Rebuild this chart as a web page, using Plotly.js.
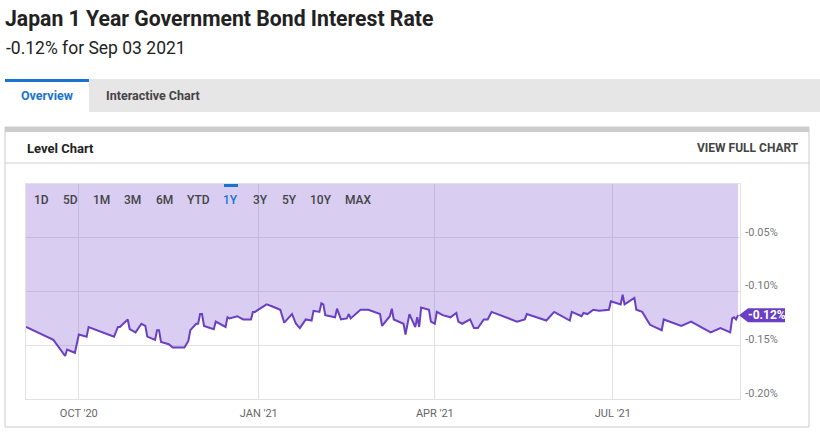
<!DOCTYPE html>
<html>
<head>
<meta charset="utf-8">
<script src="https://cdn.plot.ly/plotly-3.0.1.min.js"></script>
<style>
  html, body { margin: 0; padding: 0; background: #ffffff; }
  #chart { width: 820px; height: 435px; }
</style>
</head>
<body>
<div id="chart"></div>
<script>
// ---- Data ----
const chartTitle = "Japan 1 Year Government Bond Interest Rate";
const lastDateLabel = "Sep 03 2021";
const dates = [
  "2020-09-04","2020-09-18","2020-09-24","2020-09-25","2020-09-29","2020-10-01","2020-10-05","2020-10-06",
  "2020-10-19","2020-10-21","2020-10-22","2020-10-26","2020-10-27","2020-10-30","2020-11-02","2020-11-04",
  "2020-11-05","2020-11-09","2020-11-10","2020-11-11","2020-11-12","2020-11-16","2020-11-18","2020-11-24",
  "2020-11-26","2020-11-27","2020-11-30","2020-12-01","2020-12-02","2020-12-03","2020-12-04","2020-12-09",
  "2020-12-10","2020-12-15","2020-12-16","2020-12-17","2020-12-21","2020-12-24","2020-12-28","2020-12-29",
  "2020-12-30","2021-01-05","2021-01-08","2021-01-12","2021-01-14","2021-01-18","2021-01-20","2021-01-22",
  "2021-01-25","2021-01-28","2021-01-29","2021-02-01","2021-02-02","2021-02-03","2021-02-04","2021-02-09",
  "2021-02-10","2021-02-12","2021-02-15","2021-02-16","2021-02-17","2021-02-22","2021-02-24","2021-02-26",
  "2021-03-04","2021-03-05","2021-03-09","2021-03-10","2021-03-11","2021-03-15","2021-03-16","2021-03-17",
  "2021-03-18","2021-03-19","2021-03-22","2021-03-23","2021-03-24","2021-03-25","2021-03-29","2021-03-30",
  "2021-04-01","2021-04-02","2021-04-05","2021-04-09","2021-04-12","2021-04-13","2021-04-15","2021-04-19",
  "2021-04-21","2021-04-23","2021-04-26","2021-04-28","2021-04-30","2021-05-06","2021-05-13","2021-05-17",
  "2021-05-18","2021-05-28","2021-06-01","2021-06-09","2021-06-10","2021-06-15","2021-06-16","2021-06-18",
  "2021-06-21","2021-06-24","2021-06-29","2021-06-30","2021-07-04","2021-07-05","2021-07-06","2021-07-07",
  "2021-07-12","2021-07-13","2021-07-16","2021-07-20","2021-07-26","2021-07-27","2021-08-05","2021-08-10",
  "2021-08-20","2021-08-25","2021-08-30","2021-08-31","2021-09-01","2021-09-02","2021-09-03"
];
const rates = [
  -0.133,-0.145,-0.160,-0.154,-0.157,-0.140,-0.142,-0.133,
  -0.142,-0.133,-0.133,-0.126,-0.135,-0.138,-0.130,-0.132,
  -0.142,-0.145,-0.136,-0.136,-0.147,-0.149,-0.152,-0.152,
  -0.146,-0.136,-0.130,-0.130,-0.121,-0.121,-0.132,-0.135,
  -0.128,-0.133,-0.124,-0.125,-0.123,-0.126,-0.126,-0.119,
  -0.119,-0.112,-0.114,-0.117,-0.129,-0.121,-0.130,-0.134,
  -0.126,-0.127,-0.118,-0.119,-0.111,-0.112,-0.122,-0.124,
  -0.116,-0.126,-0.125,-0.121,-0.125,-0.117,-0.117,-0.117,
  -0.121,-0.132,-0.123,-0.116,-0.126,-0.129,-0.130,-0.140,
  -0.130,-0.121,-0.133,-0.124,-0.133,-0.115,-0.117,-0.128,
  -0.130,-0.119,-0.122,-0.124,-0.120,-0.128,-0.130,-0.126,
  -0.134,-0.134,-0.126,-0.126,-0.119,-0.123,-0.128,-0.126,
  -0.121,-0.127,-0.119,-0.127,-0.119,-0.123,-0.120,-0.121,
  -0.117,-0.118,-0.117,-0.109,-0.111,-0.112,-0.103,-0.112,
  -0.106,-0.117,-0.119,-0.131,-0.136,-0.126,-0.132,-0.128,
  -0.138,-0.134,-0.138,-0.125,-0.124,-0.126,-0.122
];
const xTickDates = ["2020-10-01","2021-01-01","2021-04-01","2021-07-01"];
const xTickLabels = ["OCT '20","JAN '21","APR '21","JUL '21"];
const yTickValues = [-0.20,-0.15,-0.10,-0.05];
const rangeLabels = ["1D","5D","1M","3M","6M","YTD","1Y","3Y","5Y","10Y","MAX"];
const activeRange = "1Y";
const tabLabels = ["Overview","Interactive Chart"];
const panelTitle = "Level Chart";
const panelLink = "VIEW FULL CHART";

// ---- Layout helpers (pixel -> paper) ----
const W = 820, H = 435;
const M = {l: 26, r: 80, t: 184, b: 36};
const PW = W - M.l - M.r, PH = H - M.t - M.b;
const X = px => (px - M.l) / PW;
const Y = py => (H - M.b - py) / PH;

const purple = "#6a3fc4";
const blue = "#1a73d1";
const lastVal = rates[rates.length - 1];
const fmtPct = v => v.toFixed(2) + "%";

const traces = [{
  type: "scatter",
  mode: "lines",
  x: dates,
  y: rates,
  line: {color: purple, width: 2},
  fill: "tozeroy",
  fillcolor: "rgba(120,80,210,0.28)",
  hoverinfo: "skip"
}];

const rangeX = [41, 70, 101, 132, 164, 198, 231, 260, 289, 321, 358];

const annotations = [
  {text: fmtPct(lastVal) + " for " + lastDateLabel, xref: "paper", yref: "paper", x: X(4), y: Y(48),
   xanchor: "left", yanchor: "middle", showarrow: false, font: {family: "Roboto", size: 17.5, color: "#222"}},
  {text: tabLabels[0], xref: "paper", yref: "paper", x: X(47), y: Y(96), xanchor: "center", yanchor: "middle",
   showarrow: false, font: {family: "Roboto", size: 12.5, weight: "bold", color: blue}},
  {text: tabLabels[1], xref: "paper", yref: "paper", x: X(104), y: Y(96), xanchor: "left", yanchor: "middle",
   showarrow: false, font: {family: "Roboto", size: 12.5, weight: "bold", color: "#444"}},
  {text: panelTitle, xref: "paper", yref: "paper", x: X(25), y: Y(148), xanchor: "left", yanchor: "middle",
   showarrow: false, font: {family: "Roboto", size: 13, weight: "bold", color: "#222"}},
  {text: panelLink, xref: "paper", yref: "paper", x: X(801), y: Y(148), xanchor: "right", yanchor: "middle",
   showarrow: false, font: {family: "Roboto", size: 12, weight: "bold", color: "#444"}},
  {text: "<b>" + fmtPct(lastVal) + "</b>", xref: "paper", yref: "y", x: X(767), y: lastVal,
   xanchor: "center", yanchor: "middle", showarrow: false, font: {family: "Roboto", size: 12, color: "#ffffff"}}
];
rangeLabels.forEach((lab, i) => {
  annotations.push({
    text: lab, xref: "paper", yref: "paper", x: X(rangeX[i]), y: Y(200), xanchor: "center", yanchor: "middle",
    showarrow: false,
    font: {family: "Roboto", size: 12, weight: 500, color: lab === activeRange ? blue : "#444"}
  });
});

const rect = (x0, y0, x1, y1, fill, extra) => Object.assign({
  type: "rect", xref: "paper", yref: "paper", x0: X(x0), x1: X(x1), y0: Y(y0), y1: Y(y1),
  fillcolor: fill, line: {width: 0}, layer: "below"
}, extra || {});

const shapes = [
  rect(5, 79, 820, 112, "#e6e6e6"),
  rect(5, 82, 89, 112, "#ffffff"),
  rect(5, 79, 89, 82, blue),
  rect(5, 127, 809, 427, "rgba(0,0,0,0)", {line: {color: "#cccccc", width: 1}}),
  rect(5, 127, 809, 132, "#cccccc"),
  {type: "line", xref: "paper", yref: "paper", x0: X(5), x1: X(809), y0: Y(163), y1: Y(163),
   line: {color: "#d0d0d0", width: 1}, layer: "below"},
  rect(224, 184, 238, 187, blue, {layer: "above"}),
  {type: "path", xref: "paper", yref: "y", xsizemode: "pixel", ysizemode: "pixel",
   xanchor: 1, yanchor: lastVal,
   path: "M -1,0 L 8,7 L 45,7 L 45,-7 L 8,-7 Z",
   fillcolor: purple, line: {width: 0}, layer: "above"}
];

const layout = {
  width: W, height: H,
  margin: M,
  paper_bgcolor: "#ffffff",
  plot_bgcolor: "#ffffff",
  showlegend: false,
  title: {
    text: chartTitle, xref: "container", yref: "container", x: 5 / W, xanchor: "left",
    y: 1 - 19 / H, yanchor: "middle",
    font: {family: "Roboto", size: 21.2, weight: "bold", color: "#222"}
  },
  xaxis: {
    type: "date",
    range: ["2020-09-04", "2021-09-04"],
    tickmode: "array",
    tickvals: xTickDates,
    ticktext: xTickLabels,
    showgrid: true, gridcolor: "#e2e2e2", gridwidth: 1,
    showline: true, linecolor: "#e2e2e2", linewidth: 1, mirror: true,
    ticks: "", zeroline: false,
    tickfont: {family: "Roboto", size: 11, color: "#666"},
    ticklabelstandoff: 4,
    fixedrange: true
  },
  yaxis: {
    side: "right",
    range: [-0.20, 0.0],
    tickmode: "array",
    tickvals: yTickValues,
    ticktext: yTickValues.map(fmtPct),
    showgrid: true, gridcolor: "#e2e2e2", gridwidth: 1,
    showline: true, linecolor: "#e2e2e2", linewidth: 1, mirror: true,
    ticks: "", zeroline: false,
    tickfont: {family: "Roboto", size: 11, color: "#777"},
    ticklabelshift: -6,
    ticklabelstandoff: 2,
    fixedrange: true
  },
  shapes: shapes,
  annotations: annotations
};

Plotly.newPlot("chart", traces, layout, {displayModeBar: false, staticPlot: true});
</script>
</body>
</html>
